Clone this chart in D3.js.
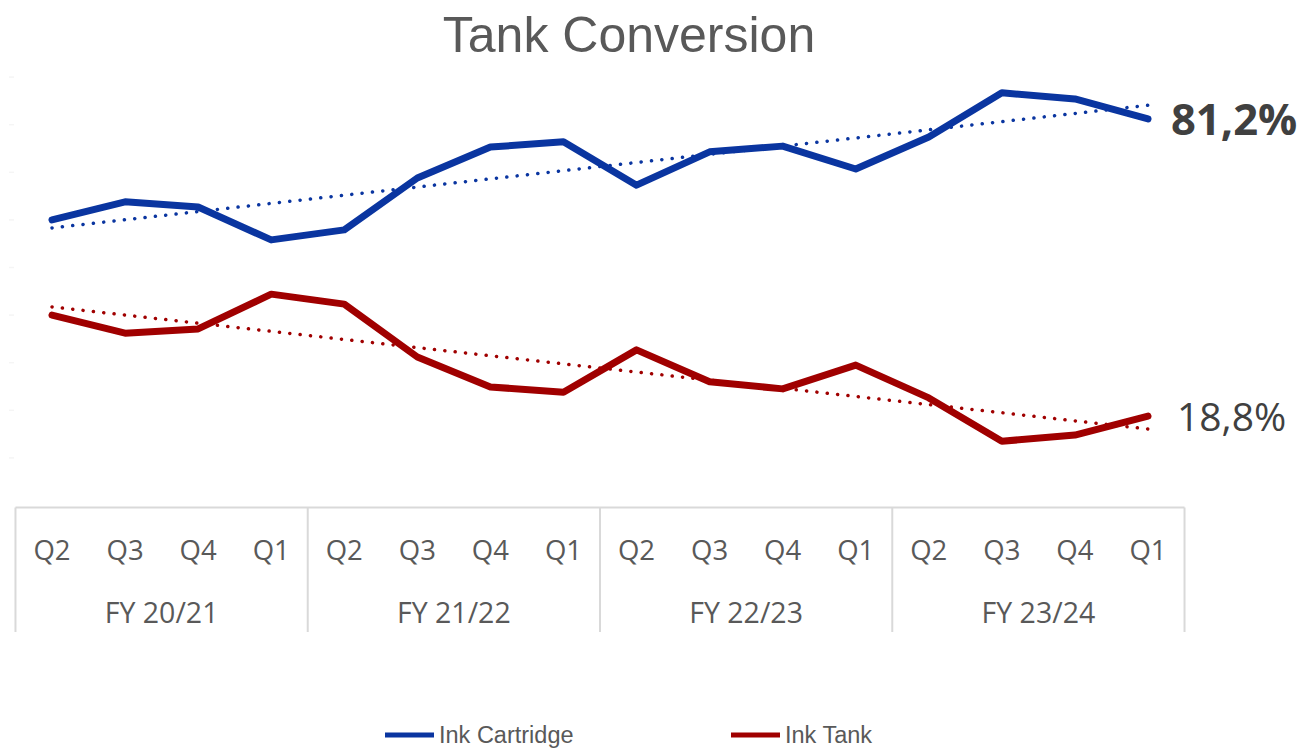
<!DOCTYPE html>
<html lang="en">
<head>
  <meta charset="UTF-8">
  <title>Tank Conversion</title>
  <script src="https://d3js.org/d3.v7.min.js"></script>
  <style>
    body { margin: 0; background: #fff; }
    svg { display: block; }
    .cat { font-family: "Open Sans", sans-serif; fill: #595959; }
    .title, .legend { font-family: "Liberation Sans", Arial, sans-serif; fill: #595959; }
  </style>
</head>
<body>
  <svg width="1304" height="749"></svg>

  <script>
    // data (share in %)
    const quarters = ["Q2", "Q3", "Q4", "Q1", "Q2", "Q3", "Q4", "Q1", "Q2", "Q3", "Q4", "Q1", "Q2", "Q3", "Q4", "Q1"];
    const fiscalYears = ["FY 20/21", "FY 21/22", "FY 22/23", "FY 23/24"];
    const inkCartridge = [60.0, 63.8, 62.7, 55.8, 57.9, 68.8, 75.3, 76.4, 67.3, 74.3, 75.5, 70.7, 77.4, 86.7, 85.4, 81.2];
    const inkTank = [40.0, 36.2, 37.1, 44.4, 42.3, 31.2, 24.9, 23.8, 32.7, 26.0, 24.5, 29.5, 22.6, 13.5, 14.8, 18.8];
    const yTicks = [10, 20, 30, 40, 50, 60, 70, 80, 90];

    const svg = d3.select("svg");
    const blue = "#0a35a0", red = "#a00000";

    const x = d3.scalePoint().domain(d3.range(quarters.length)).range([52, 1148]);
    const step = x.step();
    const y = d3.scaleLinear().domain([0, 100]).range([505.5, 29.5]);

    // faint tick marks at the left edge
    svg.append("g").selectAll("line")
      .data(yTicks)
      .join("line")
      .attr("x1", 9).attr("x2", 14)
      .attr("y1", d => y(d)).attr("y2", d => y(d))
      .attr("stroke", "#f5f5f5").attr("stroke-width", 1.5);

    // category box
    const boxLeft = x(0) - step / 2, boxRight = x(quarters.length - 1) + step / 2;
    const axis = svg.append("g").attr("stroke", "#d9d9d9").attr("stroke-width", 2);
    axis.append("line").attr("x1", boxLeft).attr("x2", boxRight).attr("y1", y(0) + 2).attr("y2", y(0) + 2);
    fiscalYears.forEach((fy, i) => {
      const xl = x(i * 4) - step / 2;
      axis.append("line").attr("x1", xl).attr("x2", xl).attr("y1", y(0) + 2).attr("y2", 632);
    });
    axis.append("line").attr("x1", boxRight).attr("x2", boxRight).attr("y1", y(0) + 2).attr("y2", 632);

    svg.append("g").selectAll("text")
      .data(quarters)
      .join("text")
      .attr("class", "cat")
      .attr("x", (d, i) => x(i))
      .attr("y", 560)
      .attr("text-anchor", "middle")
      .attr("font-size", 27.5)
      .text(d => d);

    svg.append("g").selectAll("text")
      .data(fiscalYears)
      .join("text")
      .attr("class", "cat")
      .attr("x", (d, i) => (x(i * 4) + x(i * 4 + 3)) / 2)
      .attr("y", 623)
      .attr("text-anchor", "middle")
      .attr("font-size", 28.5)
      .text(d => d);

    // linear trend (least squares, as the spreadsheet does)
    function trend(vals) {
      const xs = vals.map((v, i) => i);
      const mx = d3.mean(xs), my = d3.mean(vals);
      const b = d3.sum(xs, (xi, i) => (xi - mx) * (vals[i] - my)) / d3.sum(xs, xi => (xi - mx) ** 2);
      const a = my - b * mx;
      return [0, vals.length - 1].map(i => [i, a + b * i]);
    }

    const line = d3.line().x(d => x(d[0])).y(d => y(d[1]));
    const series = [
      { name: "Ink Cartridge", values: inkCartridge, color: blue },
      { name: "Ink Tank", values: inkTank, color: red }
    ];

    series.forEach(s => {
      svg.append("path")
        .attr("d", line(trend(s.values)))
        .attr("fill", "none")
        .attr("stroke", s.color)
        .attr("stroke-width", 3.5)
        .attr("stroke-linecap", "round")
        .attr("stroke-dasharray", "0.1 10.3");
      svg.append("path")
        .attr("d", line(s.values.map((v, i) => [i, v])))
        .attr("fill", "none")
        .attr("stroke", s.color)
        .attr("stroke-width", 7)
        .attr("stroke-linejoin", "round")
        .attr("stroke-linecap", "round");
    });

    // end labels
    const last = quarters.length - 1;
    svg.append("text")
      .attr("class", "cat")
      .attr("x", 1171).attr("y", y(inkCartridge[last]) + 16)
      .attr("font-size", 43.5).attr("font-weight", "bold")
      .style("fill", "#404040")
      .text(d3.format(".1f")(inkCartridge[last]).replace(".", ",") + "%");
    svg.append("text")
      .attr("class", "cat")
      .attr("x", 1177).attr("y", y(inkTank[last]) + 15)
      .attr("font-size", 39)
      .style("fill", "#404040")
      .text(d3.format(".1f")(inkTank[last]).replace(".", ",") + "%");

    // title
    svg.append("text")
      .attr("class", "title")
      .attr("x", 629).attr("y", 52)
      .attr("text-anchor", "middle")
      .attr("font-size", 50)
      .text("Tank Conversion");

    // legend
    const legendX = [385, 731];
    series.forEach((s, i) => {
      const g = svg.append("g").attr("transform", `translate(${legendX[i]},735)`);
      g.append("line").attr("x1", 0).attr("x2", 49).attr("stroke", s.color).attr("stroke-width", 5);
      g.append("text").attr("class", "legend").attr("x", 54).attr("y", 8).attr("font-size", 23.5).text(s.name);
    });
  </script>
</body>
</html>
